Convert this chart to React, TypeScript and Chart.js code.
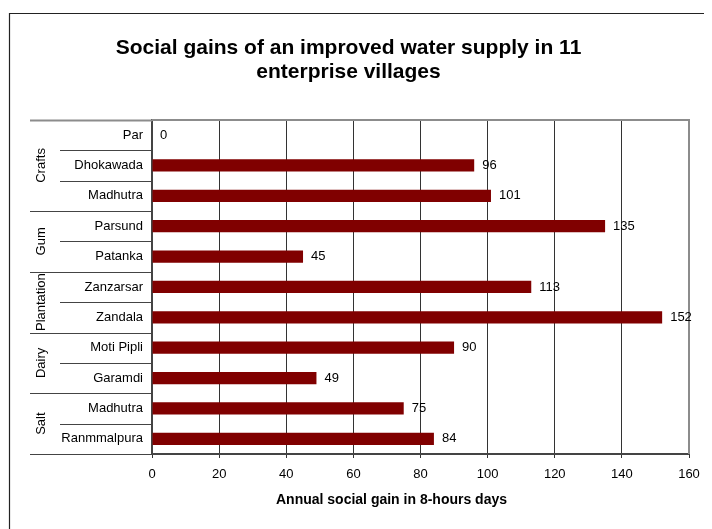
import React, { useEffect, useRef } from "react";
import { Chart, registerables } from "chart.js";

Chart.register(...registerables);

const FONT = "'Liberation Sans', Arial, Helvetica, sans-serif";

// Villages, top to bottom, and the enterprise group each belongs to
const villages = [
  "Par",
  "Dhokawada",
  "Madhutra",
  "Parsund",
  "Patanka",
  "Zanzarsar",
  "Zandala",
  "Moti Pipli",
  "Garamdi",
  "Madhutra",
  "Ranmmalpura",
];
const groups = ["Crafts", "Gum", "Plantation", "Dairy", "Salt"];
const groupSizes = [3, 2, 2, 2, 2];

// Annual social gain, in 8-hour days
const gains = [0, 96, 101, 135, 45, 113, 152, 90, 49, 75, 84];

const xMin = 0;
const xMax = 160;
const xStep = 20;

const titleLines = [
  "Social gains of an improved water supply in 11",
  "enterprise villages",
];
const xTitle = "Annual social gain in 8-hours days";

const LABEL_SIZE = 13;

// Frame, category/group separators, group names, value labels, axis title
const decorations = {
  id: "decorations",
  beforeDraw(chart: any) {
    const ctx = chart.ctx;
    ctx.save();
    ctx.strokeStyle = "#222";
    ctx.lineWidth = 1.2;
    ctx.beginPath();
    ctx.moveTo(1.5, chart.height + 5);
    ctx.lineTo(1.5, 5.5);
    ctx.lineTo(chart.width + 5, 5.5);
    ctx.stroke();
    ctx.restore();
  },
  afterDraw(chart: any) {
    const ctx = chart.ctx;
    const area = chart.chartArea;
    const n = villages.length;
    const h = (area.bottom - area.top) / n;
    ctx.save();

    // grey top and right edges of the plot
    ctx.strokeStyle = "#8c8c8c";
    ctx.lineWidth = 2;
    ctx.beginPath();
    ctx.moveTo(area.left, area.top);
    ctx.lineTo(area.right, area.top);
    ctx.lineTo(area.right, area.bottom);
    ctx.stroke();

    // separators between categories and groups
    const groupEdges = new Set<number>([0]);
    let acc = 0;
    groupSizes.forEach((s) => {
      acc += s;
      groupEdges.add(acc);
    });
    for (let i = 0; i <= n; i++) {
      const yy = Math.round(area.top + i * h) + 0.5;
      const x0 = groupEdges.has(i) ? 22 : 52;
      ctx.strokeStyle = i === 0 ? "#8c8c8c" : "#444";
      ctx.lineWidth = i === 0 ? 2 : 1;
      ctx.beginPath();
      ctx.moveTo(x0, yy);
      ctx.lineTo(area.left, yy);
      ctx.stroke();
    }

    // rotated group names
    ctx.fillStyle = "#000";
    ctx.font = `${LABEL_SIZE}px ${FONT}`;
    ctx.textAlign = "center";
    ctx.textBaseline = "middle";
    let start = 0;
    groups.forEach((g, gi) => {
      const cy = area.top + (start + groupSizes[gi] / 2) * h;
      ctx.save();
      ctx.translate(33, cy);
      ctx.rotate(-Math.PI / 2);
      ctx.fillText(g, 0, 0);
      ctx.restore();
      start += groupSizes[gi];
    });

    // value labels at the bar ends
    const meta = chart.getDatasetMeta(0);
    ctx.textAlign = "left";
    meta.data.forEach((bar: any, i: number) => {
      ctx.fillText(String(gains[i]), bar.x + 8, bar.y);
    });

    // x-axis title
    ctx.font = `bold 14px ${FONT}`;
    ctx.textAlign = "center";
    ctx.fillText(xTitle, (area.left + area.right) / 2 - 29, 492);

    ctx.restore();
  },
};

export default function App() {
  const ref = useRef<HTMLCanvasElement | null>(null);

  useEffect(() => {
    if (!ref.current) return;
    const chart = new Chart(ref.current, {
      type: "bar",
      data: {
        labels: villages,
        datasets: [
          {
            data: gains,
            backgroundColor: "#800000",
            borderWidth: 0,
            barPercentage: 0.4,
            categoryPercentage: 1,
          },
        ],
      },
      options: {
        indexAxis: "y",
        responsive: false,
        animation: false,
        layout: { padding: { left: 0, right: 23, top: 0, bottom: 0 } },
        plugins: {
          legend: { display: false },
          tooltip: { enabled: false },
          title: {
            display: true,
            text: titleLines,
            color: "#000",
            font: { family: FONT, size: 21, weight: "bold", lineHeight: 1.14 },
            padding: { top: 28.5, bottom: 35.5 },
          },
        },
        scales: {
          x: {
            type: "linear",
            min: xMin,
            max: xMax,
            ticks: {
              stepSize: xStep,
              color: "#000",
              font: { family: FONT, size: LABEL_SIZE },
              padding: 9,
            },
            grid: {
              color: "#333",
              lineWidth: 1,
              drawTicks: true,
              tickLength: 4,
            },
            border: { display: true, color: "#444", width: 2 },
            afterFit(scale: any) {
              scale.height = 75;
            },
          },
          y: {
            type: "category",
            ticks: {
              color: "#000",
              font: { family: FONT, size: LABEL_SIZE },
              padding: 9,
              crossAlign: "near",
            },
            grid: { display: false, drawTicks: false },
            border: { display: true, color: "#444", width: 2 },
            afterFit(scale: any) {
              scale.width = 144;
            },
          },
        },
      },
      plugins: [decorations],
    });
    return () => chart.destroy();
  }, []);

  return (
    <div style={{ width: 704, height: 521, overflow: "hidden" }}>
      <canvas ref={ref} width={704} height={521} style={{ display: "block" }} />
    </div>
  );
}
